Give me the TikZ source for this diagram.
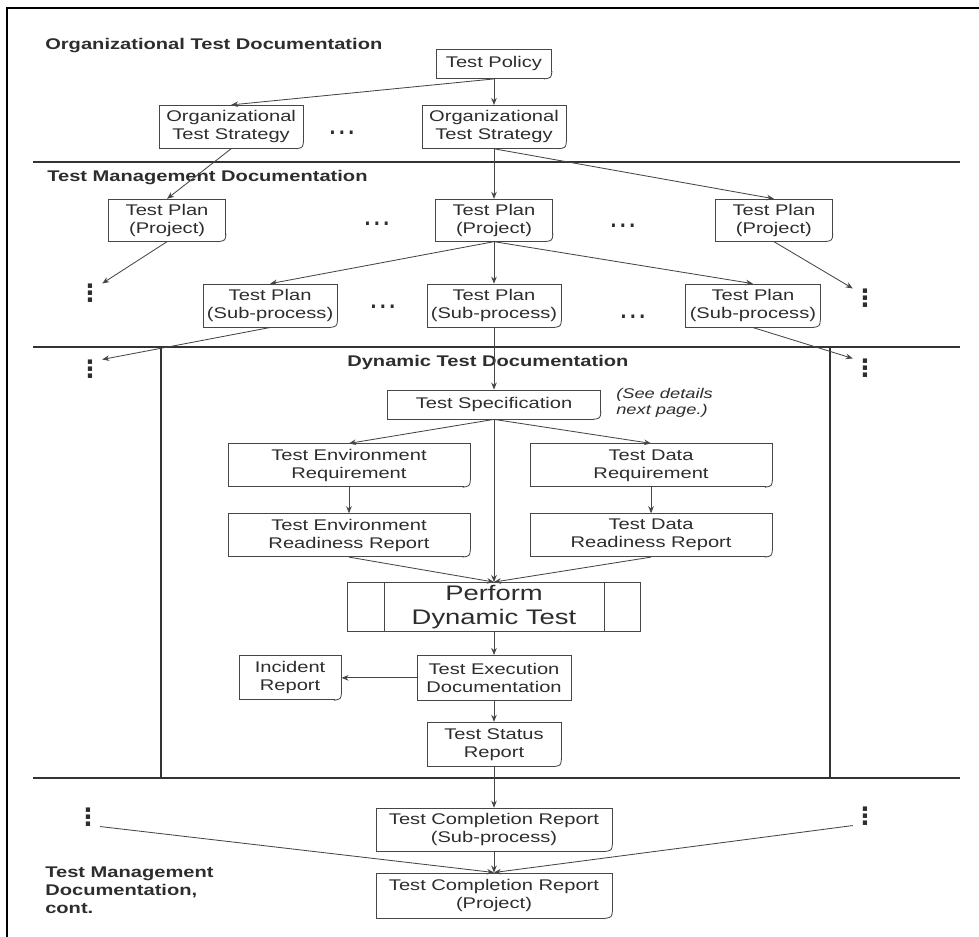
\documentclass[tikz,border=0pt]{standalone}
\usepackage{fontspec}
\setmainfont[FakeStretch=1.3]{Liberation Sans}
\newfontfamily\dotsfont{DejaVu Sans}
\usepackage{xcolor}
\definecolor{inkgray}{RGB}{45,45,45}
\definecolor{linegray}{RGB}{70,70,70}
\usepackage{tikz}
\usetikzlibrary{arrows.meta, positioning}
\tikzset{
  docbox/.style={
    rectangle, draw=linegray, line width=0.6pt,
    text=inkgray, font=\fontsize{11}{12.8}\selectfont,
    align=center, inner sep=0pt
  },
  boxsize/.style 2 args={minimum width=#1, minimum height=#2},
  sectitle/.style={
    font=\fontsize{11}{12.8}\selectfont\bfseries,
    text=inkgray, inner sep=0pt, anchor=west, align=left
  },
  note/.style={
    font=\fontsize{10}{11.5}\selectfont\itshape,
    text=inkgray, inner sep=0pt, anchor=west, align=left
  },
  hdots/.style={font=\dotsfont\fontsize{20}{20}\selectfont, text=inkgray, inner sep=0pt},
  vdots/.style={font=\dotsfont\fontsize{17}{17}\selectfont\bfseries, text=inkgray, inner sep=0pt},
  arr/.style={draw=linegray, line width=0.6pt, -{Stealth[length=5pt,width=4pt]}},
  sepline/.style={draw=black!80, line width=1.6pt}
}

\begin{document}
\begin{tikzpicture}[x=0.025cm, y=-0.025cm]

  \useasboundingbox (0,0) rectangle (979,937);

  % --- cadre et separations ---
  \draw[line width=1.6pt] (7,937) -- (7,8) -- (979,8);
  \draw[sepline] (33,162) -- (960,162);
  \draw[sepline] (33,347) -- (960,347);
  \draw[sepline] (33,778) -- (960,778);
  \draw[sepline] (161,347) -- (161,778);
  \draw[sepline] (830,347) -- (830,778);

  % --- titres ---
  \node[sectitle] (ttlorg) at (45,46) {Organizational Test Documentation};
  \node[sectitle] (ttlmgmt) at (47,178) {Test Management Documentation};
  \node[sectitle] (ttldyn) at (347,363) {Dynamic Test Documentation};
  \node[sectitle] (ttlcont) at (45,890) {Test Management\\Documentation,\\cont.};

  % --- niveau organisation ---
  \node[docbox, boxsize={2.875cm}{0.725cm}] (policy) at (494,64) {Test Policy};
  \node[docbox, boxsize={3.6cm}{1.075cm}, below=0.65cm of policy] (stratR) {Organizational\\Test Strategy};
  \node[docbox, boxsize={3.6cm}{1.075cm}, left=2.95cm of stratR] (stratL) {Organizational\\Test Strategy};
  \node[hdots] (dotsS) at (342,136) {⋯};

  % --- plans de test ---
  \node[docbox, boxsize={2.925cm}{1.05cm}, below=1.25cm of stratR] (planM) {Test Plan\\(Project)};
  \node[docbox, boxsize={2.925cm}{1.05cm}, left=5.225cm of planM] (planL) {Test Plan\\(Project)};
  \node[docbox, boxsize={2.925cm}{1.05cm}, right=4.05cm of planM] (planR) {Test Plan\\(Project)};
  \node[hdots] (dotsPA) at (377,227) {⋯};
  \node[hdots] (dotsPB) at (623,229) {⋯};

  \node[docbox, boxsize={3.35cm}{1.075cm}, below=1.05cm of planM] (subM) {Test Plan\\(Sub-process)};
  \node[docbox, boxsize={3.35cm}{1.075cm}, left=2.225cm of subM] (subL) {Test Plan\\(Sub-process)};
  \node[docbox, boxsize={3.35cm}{1.075cm}, right=3.1cm of subM] (subR) {Test Plan\\(Sub-process)};
  \node[hdots] (dotsSA) at (383,310) {⋯};
  \node[hdots] (dotsSB) at (633,320) {⋯};

  \node[vdots] (dotsTL) at (90,293) {⋮};
  \node[vdots] (dotsTR) at (865,298) {⋮};
  \node[vdots] (dotsML) at (90,369) {⋮};
  \node[vdots] (dotsMR) at (865,368) {⋮};
  \node[vdots] (dotsBL) at (88,817) {⋮};
  \node[vdots] (dotsBR) at (865,816) {⋮};

  % --- documentation dynamique ---
  \node[docbox, boxsize={5.325cm}{0.725cm}, below=1.55cm of subM] (spec) {Test Specification};
  \node[note] (seenote) at (616,403) {(See details\\next page.)};
  \node[docbox, boxsize={6.05cm}{1.075cm}, below=0.6cm of spec, xshift=-3.625cm] (envreq) {Test Environment\\Requirement};
  \node[docbox, boxsize={6.05cm}{1.075cm}, below=0.6cm of spec, xshift=3.925cm] (datareq) {Test Data\\Requirement};
  \node[docbox, boxsize={6.05cm}{1.075cm}, below=0.65cm of envreq] (envrdy) {Test Environment\\Readiness Report};
  \node[docbox, boxsize={6.05cm}{1.075cm}, below=0.65cm of datareq] (datardy) {Test Data\\Readiness Report};

  \node[docbox, boxsize={7.325cm}{1.225cm}, font=\fontsize{15}{17}\selectfont] (perform) at (494,607) {Perform\\Dynamic Test};
  \draw[linegray, line width=0.6pt] ([xshift=0.925cm]perform.north west) -- ([xshift=0.925cm]perform.south west);
  \draw[linegray, line width=0.6pt] ([xshift=-0.925cm]perform.north east) -- ([xshift=-0.925cm]perform.south east);

  \node[docbox, boxsize={3.85cm}{1.125cm}, below=0.575cm of perform] (exec) {Test Execution\\Documentation};
  \node[docbox, boxsize={2.55cm}{1.1cm}, left=1.875cm of exec] (incident) {Incident\\Report};
  \node[docbox, boxsize={3.35cm}{1.1cm}, below=0.525cm of exec] (status) {Test Status\\Report};

  % --- rapports de fin ---
  \node[docbox, boxsize={5.9cm}{1.075cm}, below=1.025cm of status] (compsub) {Test Completion Report\\(Sub-process)};
  \node[docbox, boxsize={5.9cm}{1.125cm}, below=0.525cm of compsub] (compproj) {Test Completion Report\\(Project)};

  % --- coins replies ---
  \foreach \n in {policy,stratL,stratR,planL,planM,planR,subL,subM,subR,spec,envreq,datareq,envrdy,datardy,incident,status,compsub,compproj} {
    \fill[white] ([xshift=-5.5pt,yshift=-0.6pt]\n.south east) -- ([xshift=0.6pt,yshift=-0.6pt]\n.south east) -- ([xshift=0.6pt,yshift=5.5pt]\n.south east) -- cycle;
    \draw[linegray, line width=0.6pt] ([yshift=5.5pt]\n.south east) .. controls ([xshift=-0.5pt,yshift=0.8pt]\n.south east) .. ([xshift=-5.5pt]\n.south east);
  }

  % --- connexions ---
  \draw[arr] (policy.south) -- (stratR.north);
  \draw[arr] (policy.south) -- (stratL.north);
  \draw[arr] (stratL.south) -- (planL.north);
  \draw[arr] (stratR.south) -- (planM.north);
  \draw[arr] (stratR.south) -- (planR.north);
  \draw[arr] (planL.south) -- (dotsTL.north east);
  \draw[arr] (planR.south) -- (dotsTR.north west);
  \draw[arr] (planM.south) -- (subL.north);
  \draw[arr] (planM.south) -- (subM.north);
  \draw[arr] (planM.south) -- (subR.north);
  \draw[arr] (subL.south) -- (dotsML.north east);
  \draw[arr] (subR.south) -- (dotsMR.north west);
  \draw[arr] (subM.south) -- (spec.north);
  \draw[arr] (spec.south) -- (envreq.north);
  \draw[arr] (spec.south) -- (datareq.north);
  \draw[arr] (spec.south) -- (perform.north);
  \draw[arr] (envreq.south) -- (envrdy.north);
  \draw[arr] (datareq.south) -- (datardy.north);
  \draw[arr] (envrdy.south) -- (perform.north);
  \draw[arr] (datardy.south) -- (perform.north);
  \draw[arr] (perform.south) -- (exec.north);
  \draw[arr] (exec.west) -- (incident.east);
  \draw[arr] (exec.south) -- (status.north);
  \draw[arr] (status.south) -- (compsub.north);
  \draw[arr] (compsub.south) -- (compproj.north);
  \draw[arr] (dotsBL.south east) -- (compproj.north);
  \draw[arr] (dotsBR.south west) -- (compproj.north);

\end{tikzpicture}
\end{document}
